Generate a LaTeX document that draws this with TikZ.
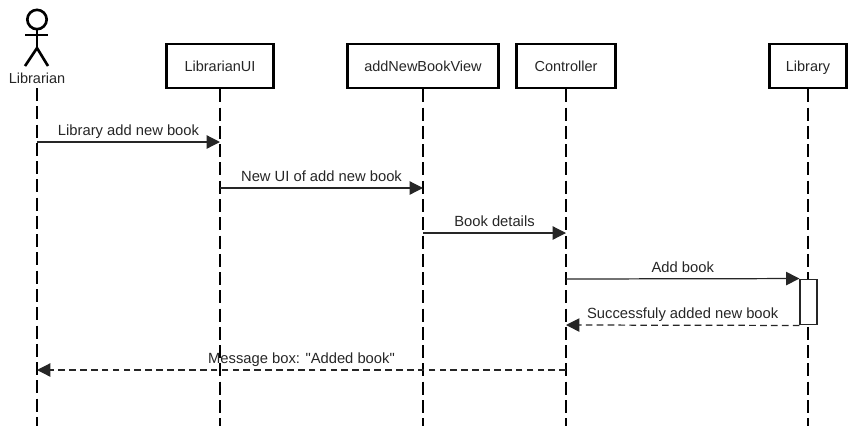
\documentclass[tikz,border=0pt]{standalone}
\usepackage{fontspec}
\setmainfont{Liberation Sans}
\usetikzlibrary{arrows.meta}
\tikzset{
  >={Triangle[length=7.6pt,width=7.6pt]},
  lifebox/.style = {draw, line width=1.6pt, color=black, fill=white, minimum height=25pt,
                    inner sep=0, text=black!85, text height=8pt, text depth=1.5pt,
                    font=\fontsize{8.25}{10}\selectfont},
  lifeline/.style = {draw, line width=0.7pt, dash pattern=on 7.4pt off 3pt},
  actorline/.style = {draw, line width=1.5pt},
  msg/.style = {->, draw, line width=0.7pt, black!85},
  reply/.style = {msg, dash pattern=on 3.8pt off 2.4pt},
  msglabel/.style = {above, inner sep=0, yshift=1.6pt, text=black!85, text height=6pt, text depth=1.7pt,
                     font=\fontsize{8.4}{10}\selectfont},
  activation/.style = {draw, line width=0.7pt, black!85, fill=white, inner sep=0},
}
\begin{document}
\begin{tikzpicture}[x=0.02cm,y=-0.02cm]
\useasboundingbox (0,0) rectangle (856,427);
% lifelines
\coordinate (t0) at (37,88);
\coordinate (b0) at (37,426);
\coordinate (b1) at (220,426);
\coordinate (b2) at (423,426);
\coordinate (b3) at (566,426);
\coordinate (b4) at (808,426);
\node[lifebox, minimum width=60.5pt] (ui) at (220,66) {LibrarianUI};
\node[lifebox, minimum width=85.5pt] (view) at (423,66) {addNewBookView};
\node[lifebox, minimum width=56pt] (ctrl) at (566,66) {Controller};
\node[lifebox, minimum width=44pt] (lib) at (808,66) {Library};
\draw[lifeline] (t0) -- (b0);
\draw[lifeline] (ui) -- (b1);
\draw[lifeline] (view) -- (b2);
\draw[lifeline] (ctrl) -- (b3);
\draw[lifeline] (lib) -- (b4);
% actor
\node[circle, actorline, inner sep=0, minimum size=11pt] (head) at (37,19.5) {};
\coordinate (hip) at (37,48);
\draw[actorline] (head) -- (hip);
\draw[actorline] (25,35) -- (48,35);
\draw[actorline] (25,66) -- (hip) -- (48,66);
\node[text=black!85, inner sep=0, font=\fontsize{8.25}{10}\selectfont] (actor) at (37,78) {Librarian};
% activation
\node[activation, minimum width=9.6pt, minimum height=26pt] (act) at (808.5,302) {};
% messages
\coordinate (m1a) at (37,142);  \coordinate (m1b) at (220,142);
\coordinate (m2a) at (220,188); \coordinate (m2b) at (423,188);
\coordinate (m3a) at (423,233); \coordinate (m3b) at (566,233);
\coordinate (m4a) at (566,279); \coordinate (m5b) at (566,325);
\coordinate (m6a) at (566,370); \coordinate (m6b) at (37,370);
\draw[msg] (m1a) -- node[msglabel] {Library add new book} (m1b);
\draw[msg] (m2a) -- node[msglabel] {New UI of add new book} (m2b);
\draw[msg] (m3a) -- node[msglabel] {Book details} (m3b);
\draw[msg] (m4a) -- node[msglabel] {Add book} (act.north west);
\draw[reply] (act.south west) -- node[msglabel] {Successfuly added new book} (m5b);
\draw[reply] (m6a) -- node[msglabel] {Message box: \textquotedbl Added book\textquotedbl} (m6b);
\end{tikzpicture}
\end{document}
